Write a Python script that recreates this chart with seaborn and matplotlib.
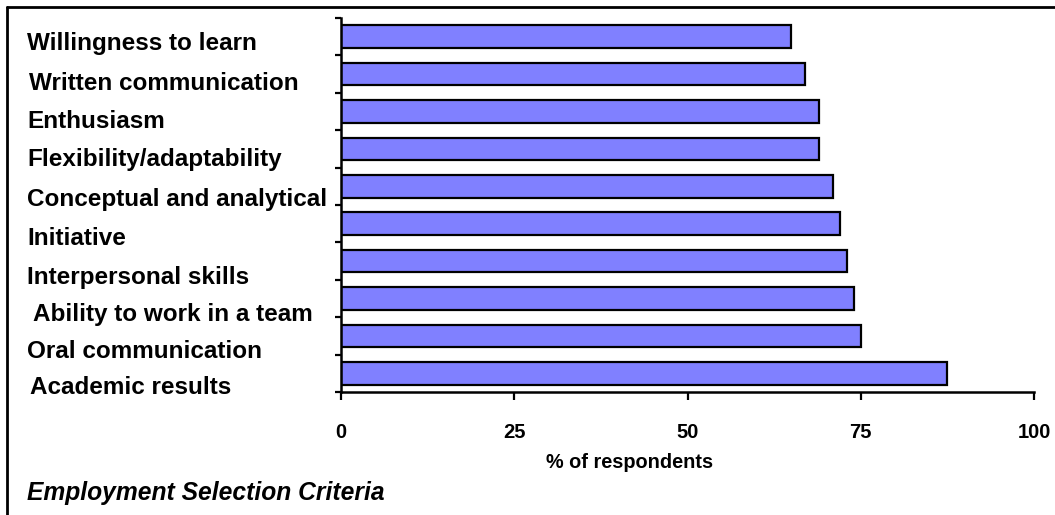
import matplotlib
matplotlib.use("Agg")
import matplotlib.pyplot as plt
import matplotlib.transforms as mtransforms
from matplotlib.lines import Line2D
import seaborn as sns
import pandas as pd

# Survey results: share of employers naming each selection criterion
criteria = [
    "Willingness to learn",
    "Written communication",
    "Enthusiasm",
    "Flexibility/adaptability",
    "Conceptual and analytical",
    "Initiative",
    "Interpersonal skills",
    "Ability to work in a team",
    "Oral communication",
    "Academic results",
]
percent = [65, 67, 69, 69, 71, 72, 73, 74, 75, 87.5]
x_ticks = [0, 25, 50, 75, 100]

title = "Employment Selection Criteria"
x_label = "% of respondents"

# Hand-placed name labels: small shifts (pixels) right and down from the bar row
name_dx = [0, 2, 0, 0, 0, 0, 0, 6, 0, 3]
name_dy = [7, 9, 10, 11, 13, 15, 16, 16, 16, 14]

sns.set_style("white")
plt.rcParams["font.family"] = ["Liberation Sans", "DejaVu Sans"]
plt.rcParams["text.color"] = "black"
plt.rcParams["xtick.color"] = "black"
plt.rcParams["axes.labelcolor"] = "black"

df = pd.DataFrame({"criterion": criteria, "percent": percent})

W, H, DPI = 1055, 515, 100
fig = plt.figure(figsize=(W / DPI, H / DPI), dpi=DPI)
ax = fig.add_axes([341 / W, 1 - 392 / H, (1034 - 341) / W, (392 - 18) / H])

sns.barplot(
    data=df, x="percent", y="criterion", orient="h",
    color="#8080FF", edgecolor="black", linewidth=1.6,
    width=0.6, saturation=1, ax=ax,
)

n = len(criteria)
ax.set_xlim(0, 100)
ax.set_ylim(n - 0.5, -0.5)

for side in ("top", "right"):
    ax.spines[side].set_visible(False)
for side in ("left", "bottom"):
    ax.spines[side].set_linewidth(1.8)
    ax.spines[side].set_color("black")

# Category tick marks sit between the bars; names are drawn separately
ax.set_yticks([i - 0.5 for i in range(n + 1)])
ax.set_yticklabels([])
ax.tick_params(axis="y", direction="out", length=4.5, width=1.6, color="black", left=True)

ax.set_xticks(x_ticks)
ax.set_xticklabels([str(t) for t in x_ticks], fontsize=14.5, fontweight="bold")
ax.tick_params(axis="x", direction="out", length=6, width=1.6, color="black",
               pad=16, bottom=True, labelcolor="black")
ax.set_xlabel(x_label, fontsize=14.3, fontweight="bold")
ax.xaxis.set_label_coords((630 - 341) / (1034 - 341), -(463 - 392) / (392 - 18))
ax.xaxis.label.set_va("center")
ax.set_ylabel("")

# Criterion names, left-aligned near the figure edge
base_tf = mtransforms.blended_transform_factory(fig.transFigure, ax.transData)
for i, name in enumerate(criteria):
    tf = base_tf + mtransforms.ScaledTranslation(name_dx[i] / DPI, -name_dy[i] / DPI,
                                                 fig.dpi_scale_trans)
    ax.text(27 / W, i, name, transform=tf, ha="left", va="center",
            fontsize=17.5, fontweight="bold", color="black", clip_on=False)

fig.text(27 / W, 1 - 493 / H, title, ha="left", va="center",
         fontsize=17.7, fontweight="bold", fontstyle="italic", color="black")

# Frame along the top and left edges
fig.add_artist(Line2D([7 / W, 1], [1 - 6.5 / H, 1 - 6.5 / H], transform=fig.transFigure,
                      color="black", linewidth=2))
fig.add_artist(Line2D([7 / W, 7 / W], [1 - 6.5 / H, 0], transform=fig.transFigure,
                      color="black", linewidth=2))

fig.savefig("out.png", dpi=DPI, facecolor="white")
